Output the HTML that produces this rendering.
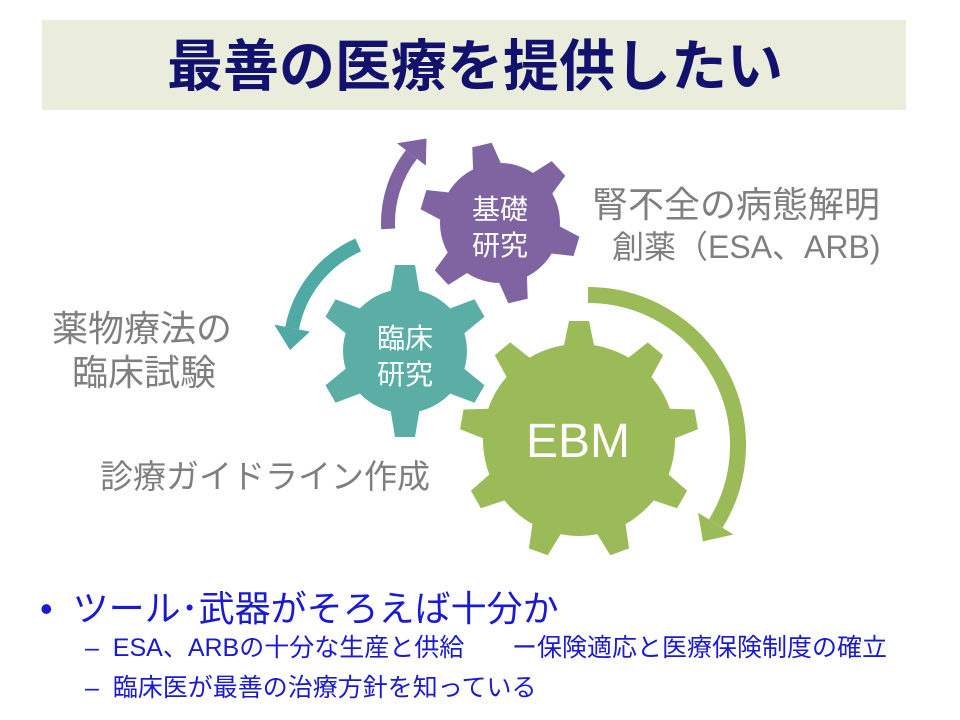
<!DOCTYPE html>
<html><head><meta charset="utf-8">
<style>
body{margin:0;background:#fff;}
#c{position:relative;width:960px;height:720px;overflow:hidden;font-family:"Liberation Sans","Noto Sans CJK JP",sans-serif;}
.t{position:absolute;white-space:nowrap;}
</style></head><body>
<div id="c">
<div style="position:absolute;left:42px;top:20px;width:864px;height:90px;background:#ebeddc;"></div>
<div class="t" style="left:167px;top:30px;font-size:56px;color:#12126e;font-weight:bold;line-height:74px;">最善の医療を提供したい</div>
<svg id="g" width="960" height="720" style="position:absolute;left:0;top:0"></svg>
<div class="t" style="left:592px;top:176px;font-size:36px;color:#7f7f7f;">腎不全の病態解明</div>
<div class="t" style="left:612px;top:222px;font-size:32px;color:#7f7f7f;">創薬（ESA、ARB)</div>
<div class="t" style="left:52px;top:300px;font-size:36px;color:#7f7f7f;">薬物療法の</div>
<div class="t" style="left:72px;top:344px;font-size:36px;color:#7f7f7f;">臨床試験</div>
<div class="t" style="left:100px;top:450px;font-size:33px;color:#7f7f7f;">診療ガイドライン作成</div>
<div class="t" style="left:40px;top:580px;font-size:36px;color:#1a1ad0;">•&nbsp;&nbsp;ツール･武器がそろえば十分か</div>
<div class="t" style="left:85px;top:628px;font-size:25px;color:#1a1ad0;">–&nbsp;&nbsp;ESA、ARBの十分な生産と供給</div>
<div class="t" style="left:512px;top:628px;font-size:25px;color:#1a1ad0;">ー保険適応と医療保険制度の確立</div>
<div class="t" style="left:85px;top:668px;font-size:25px;color:#1a1ad0;">–&nbsp;&nbsp;臨床医が最善の治療方針を知っている</div>
</div>
<script>
var s=document.getElementById('g'),h='';
function gear(cx,cy,rb,ro,n,rot,bw,tw,col){
 h+='<circle cx="'+cx+'" cy="'+cy+'" r="'+rb+'" fill="'+col+'"/>';
 for(var i=0;i<n;i++){var a=(rot+i*360/n)*Math.PI/180;
  var ux=Math.sin(a),uy=-Math.cos(a),px=Math.cos(a),py=Math.sin(a);
  var r0=rb-6,pts=[[r0,-bw],[ro,-tw],[ro,tw],[r0,bw]].map(function(p){return (cx+ux*p[0]+px*p[1]).toFixed(1)+','+(cy+uy*p[0]+py*p[1]).toFixed(1)});
  h+='<polygon points="'+pts.join(' ')+'" fill="'+col+'"/>';}
}
function arc(cx,cy,r,a0,a1,w,col){
 var d=a1>a0?1:-1,len=22/r*180/Math.PI,ab=a1-d*len;
 function P(a,rr){var t=a*Math.PI/180;return [cx+rr*Math.cos(t),cy+rr*Math.sin(t)];}
 var p0=P(a0,r),p1=P(ab,r),large=Math.abs(ab-a0)>180?1:0;
 h+='<path d="M'+p0[0]+','+p0[1]+' A'+r+','+r+' 0 '+large+' '+(d>0?1:0)+' '+p1[0]+','+p1[1]+'" fill="none" stroke="'+col+'" stroke-width="'+w+'"/>';
 var b1=P(ab,r-w*1.3),b2=P(ab,r+w*1.3),tp=P(a1,r);
 h+='<polygon points="'+b1+' '+b2+' '+tp+'" fill="'+col+'"/>';
}
arc(500,223,112,177,229,14,'#8064a2');
arc(405,350,115,246,180,14,'#4fa9a5');
arc(588,445,150,-90,40,16,'#9bbb59');
gear(500,223,60,80,6,-13,15,10,'#8064a2');
gear(405,351,62,86,6,0,15,10,'#5aaea6');
gear(579,440,96,119,9,0,16,10,'#9bbb59');
var F='font-family="Liberation Sans,Noto Sans CJK JP,sans-serif"';
h+='<text x="500" y="219" text-anchor="middle" font-size="28" fill="#fff" '+F+'>基礎</text>';
h+='<text x="500" y="255" text-anchor="middle" font-size="28" fill="#fff" '+F+'>研究</text>';
h+='<text x="405" y="348" text-anchor="middle" font-size="28" fill="#fff" '+F+'>臨床</text>';
h+='<text x="405" y="384" text-anchor="middle" font-size="28" fill="#fff" '+F+'>研究</text>';
h+='<text x="578" y="457" text-anchor="middle" font-size="48" fill="#fff" font-family="Liberation Sans,sans-serif">EBM</text>';
s.innerHTML=h;
</script>
</body></html>
